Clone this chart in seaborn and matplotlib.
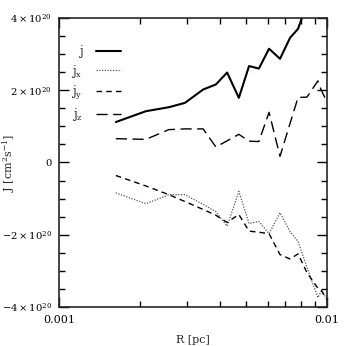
import matplotlib
matplotlib.use("Agg")
import matplotlib.pyplot as plt
import matplotlib.ticker as mticker
import seaborn as sns
import pandas as pd

# radius grid [pc]
radius = [0.00163, 0.00211, 0.00257, 0.00295, 0.00345, 0.00385, 0.00424, 0.00469, 0.00512,
          0.00557, 0.00608, 0.00668, 0.00728, 0.00780, 0.00842, 0.00925, 0.00950, 0.0101]

# specific angular momentum, in units of 1e20 cm^2/s
j_tot = [1.12, 1.42, 1.53, 1.65, 2.02, 2.16, 2.49, 1.79, 2.67,
         2.60, 3.15, 2.87, 3.45, 3.70, 4.40, 4.80, 5.00, 5.20]
j_x = [-0.84, -1.14, -0.89, -0.89, -1.16, -1.36, -1.76, -0.80, -1.69,
       -1.63, -1.97, -1.39, -1.91, -2.19, -2.90, -3.74, -3.57, -3.80]
j_y = [-0.36, -0.65, -0.89, -1.08, -1.30, -1.46, -1.66, -1.44, -1.90,
       -1.93, -1.97, -2.55, -2.67, -2.53, -3.05, -3.48, -3.52, -3.85]
j_z = [0.66, 0.64, 0.91, 0.93, 0.93, 0.43, 0.60, 0.78, 0.59,
       0.58, 1.39, 0.17, 1.08, 1.80, 1.81, 2.26, 2.02, 1.61]

labels = ["j", r"j$_\mathrm{x}$", r"j$_\mathrm{y}$", r"j$_\mathrm{z}$"]
scale = 1e20

sns.set_style("ticks")
plt.rcParams["font.family"] = ["DejaVu Serif"]
plt.rcParams["mathtext.fontset"] = "dejavuserif"
plt.rcParams["axes.linewidth"] = 1.2

fig = plt.figure(figsize=(3.46, 3.46), dpi=100)
ax = fig.add_axes([0.1705, 0.1127, 0.7745, 0.8353])

df = pd.DataFrame({"R": radius,
                   "j": [v * scale for v in j_tot],
                   "jx": [v * scale for v in j_x],
                   "jy": [v * scale for v in j_y],
                   "jz": [v * scale for v in j_z]})

styles = [("j", "-", 1.5, "black"),
          ("jx", (0, (1, 1.2)), 0.9, "#555555"),
          ("jy", (0, (4, 3)), 1.0, "black"),
          ("jz", (0, (8, 4)), 1.0, "black")]
for (col, ls, lw, c), lab in zip(styles, labels):
    sns.lineplot(data=df, x="R", y=col, ax=ax, color=c, linewidth=lw,
                 linestyle=ls, label=lab, sort=False)

ax.set_xscale("log")
ax.set_xlim(0.001, 0.01)
ax.set_ylim(-4e20, 4e20)

ax.xaxis.set_major_locator(mticker.FixedLocator([0.001, 0.01]))
ax.xaxis.set_major_formatter(mticker.FixedFormatter(["0.001", "0.01"]))
ax.xaxis.set_minor_locator(mticker.LogLocator(base=10, subs=range(2, 10)))
ax.xaxis.set_minor_formatter(mticker.NullFormatter())

ax.yaxis.set_major_locator(mticker.MultipleLocator(2e20))
ax.yaxis.set_minor_locator(mticker.MultipleLocator(0.5e20))
ytick_text = {-4: r"$-4\times10^{20}$", -2: r"$-2\times10^{20}$", 0: "0",
              2: r"$2\times10^{20}$", 4: r"$4\times10^{20}$"}
ax.yaxis.set_major_formatter(mticker.FuncFormatter(
    lambda v, p: ytick_text.get(int(round(v / scale)), "")))

ax.tick_params(which="both", direction="in", top=True, right=True,
               width=1.0, colors="black")
ax.tick_params(which="major", length=7)
ax.tick_params(which="minor", length=4)
ax.tick_params(axis="x", labelsize=8, pad=6)
ax.tick_params(axis="y", labelsize=7.2, pad=5)

ax.set_xlabel("R [pc]", fontsize=8, labelpad=7)
ax.set_ylabel(r"J [cm$^2$s$^{-1}$]", fontsize=8)
ax.yaxis.set_label_coords(-0.158, 0.5)

ax.legend(loc="upper left", bbox_to_anchor=(0.045, 0.905), frameon=False,
          markerfirst=False, fontsize=8.5, handlelength=2.2, handletextpad=1.1,
          labelspacing=0.35, borderpad=0, borderaxespad=0)

fig.savefig("out.png", dpi=100)
